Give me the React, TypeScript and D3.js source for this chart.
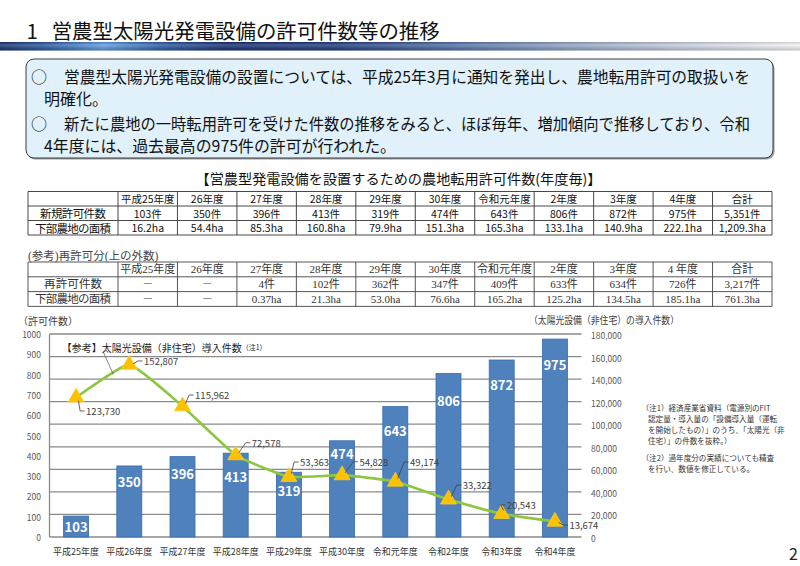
import React from "react";
import * as d3 from "d3";

// ---------- data ----------
const categories = ["平成25年度", "平成26年度", "平成27年度", "平成28年度", "平成29年度", "平成30年度", "令和元年度", "令和2年度", "令和3年度", "令和4年度"];
const permits = [103, 350, 396, 413, 319, 474, 643, 806, 872, 975];
const solarInstalls = [123730, 152807, 115962, 72578, 53363, 54828, 49174, 33322, 20543, 13674];
const leftTicks = [0, 100, 200, 300, 400, 500, 600, 700, 800, 900, 1000];
const rightTicks = [0, 20000, 40000, 60000, 80000, 100000, 120000, 140000, 160000, 180000];

const tableYears = ["平成25年度", "26年度", "27年度", "28年度", "29年度", "30年度", "令和元年度", "2年度", "3年度", "4年度", "合計"];
const permitTotal = "5,351件";
const areaNew = ["16.2ha", "54.4ha", "85.3ha", "160.8ha", "79.9ha", "151.3ha", "165.3ha", "133.1ha", "140.9ha", "222.1ha", "1,209.3ha"];
const refYears = ["平成25年度", "26年度", "27年度", "28年度", "29年度", "30年度", "令和元年度", "2年度", "3年度", "4 年度", "合計"];
const rePermits = ["－", "－", "4件", "102件", "362件", "347件", "409件", "633件", "634件", "726件", "3,217件"];
const reAreas = ["－", "－", "0.37ha", "21.3ha", "53.0ha", "76.6ha", "165.2ha", "125.2ha", "134.5ha", "185.1ha", "761.3ha"];

const notes = [
  "（注1）経済産業省資料（電源別のFIT",
  "認定量・導入量の「設備導入量（運転",
  "を開始したもの）」のうち、「太陽光（非",
  "住宅）」の件数を抜粋。）",
  "（注2）過年度分の実績についても精査",
  "を行い、数値を修正している。",
];

// label placement tweaks (style, not data)
const barLabelDy = [10.7, 15.7, 16.7, 23.7, 18, 13, 24.5, 27.6, 25, 25];
const solarLabelOffset: [number, number][] = [
  [10, 13.5], [14.8, -3.7], [12.6, -11.2], [16, -12.4], [11.2, -14.8],
  [17.3, -13.5], [14.8, -19.5], [14.3, -14.4], [5, -9], [14.5, 3.5],
];

const FONT = "'Noto Sans CJK JP', 'Noto Sans', sans-serif";
const SERIF = "'Liberation Serif', 'Noto Sans CJK JP', serif";

// ---------- table helper ----------
const colX = [28, 118, ...d3.range(1, 12).map((i) => 118 + (i * (772 - 118)) / 11)];

function Table({ top, rowH, rows, font, size, labelSize, labelWidths, color, stroke }: any) {
  const els: any[] = [];
  const nRows = rows.length;
  const bottom = top + rowH * nRows;
  for (let r = 0; r <= nRows; r++) {
    els.push(<line key={"h" + r} x1={colX[0]} x2={colX[colX.length - 1]} y1={top + r * rowH} y2={top + r * rowH} stroke={stroke} strokeWidth={0.9} />);
  }
  colX.forEach((cx, i) => {
    els.push(<line key={"v" + i} x1={cx} x2={cx} y1={top} y2={bottom} stroke={stroke} strokeWidth={0.9} />);
  });
  rows.forEach((row: string[], r: number) => {
    row.forEach((txt, c) => {
      if (!txt) return;
      const cx = (colX[c] + colX[c + 1]) / 2;
      const extra: any = {};
      if (c === 0 && labelWidths && labelWidths[r]) {
        extra.textLength = labelWidths[r];
        extra.lengthAdjust = "spacing";
      }
      els.push(
        <text key={`t${r}-${c}`} x={cx} y={top + r * rowH + rowH / 2} textAnchor="middle" dominantBaseline="central"
          fontFamily={font} fontSize={c === 0 ? labelSize : size} fill={txt === "－" ? "#777" : color} {...extra}>
          {txt}
        </text>
      );
    });
  });
  return <g>{els}</g>;
}

export default function App() {
  const plotLeft = 49.5, plotRight = 581.5, plotTop = 334, plotBottom = 537;
  const x = d3.scaleBand().domain(categories).range([plotLeft, plotRight]).paddingInner(0.53).paddingOuter(0.265);
  const yL = d3.scaleLinear().domain([0, 1000]).range([plotBottom, plotTop]);
  const yR = d3.scaleLinear().domain([0, 180000]).range([plotBottom, plotTop]);
  const bw = x.bandwidth();
  const cx = (i: number) => (x(categories[i]) as number) + bw / 2;

  const pts = solarInstalls.map((v, i) => [cx(i), yR(v)] as [number, number]);
  const linePath = d3.line().curve(d3.curveCardinal.tension(0.6))(pts) as string;
  const tri = d3.symbol().type(d3.symbolTriangle).size(110)() as string;
  const fmt = d3.format(",");

  const table1Rows = [
    ["", ...tableYears],
    ["新規許可件数", ...permits.map((p) => p + "件"), permitTotal],
    ["下部農地の面積", ...areaNew],
  ];
  const table2Rows = [
    ["", ...refYears],
    ["再許可件数", ...rePermits],
    ["下部農地の面積", ...reAreas],
  ];

  const noteYs = [407, 418, 429, 440, 457, 468];

  return (
    <svg width={800} height={566} viewBox="0 0 800 566" style={{ position: "fixed", left: 0, top: 0, background: "#fff" }}>
      <defs>
        <linearGradient id="bar" x1="0" x2="1" y1="0" y2="0">
          <stop offset="0%" stopColor="#17316c" />
          <stop offset="6%" stopColor="#2a58a4" />
          <stop offset="13%" stopColor="#5e9be0" />
          <stop offset="20%" stopColor="#2b5aa6" />
          <stop offset="28%" stopColor="#142d70" />
          <stop offset="42%" stopColor="#1d3a7e" />
          <stop offset="56%" stopColor="#4d6ca2" />
          <stop offset="72%" stopColor="#93a6c6" />
          <stop offset="87%" stopColor="#cbd3e1" />
          <stop offset="100%" stopColor="#f4f4f4" />
        </linearGradient>
        <linearGradient id="barShade" x1="0" x2="0" y1="0" y2="1">
          <stop offset="0%" stopColor="#000" stopOpacity={0.15} />
          <stop offset="35%" stopColor="#fff" stopOpacity={0.2} />
          <stop offset="100%" stopColor="#000" stopOpacity={0.2} />
        </linearGradient>
      </defs>
      <rect width={800} height={566} fill="#fff" />

      {/* title */}
      <text x={26.5} y={30} dominantBaseline="central" fontFamily={FONT} fontSize={20.5} fill="#111">1</text>
      <text x={51.7} y={30} dominantBaseline="central" fontFamily={FONT} fontSize={20.5} fill="#111" textLength={388} lengthAdjust="spacingAndGlyphs">
        営農型太陽光発電設備の許可件数等の推移
      </text>
      <rect x={0} y={42} width={800} height={8.5} fill="url(#bar)" />
      <rect x={0} y={42} width={800} height={8.5} fill="url(#barShade)" />

      {/* summary box */}
      <rect x={27.5} y={60.5} width={747} height={99} rx={8} fill="#9a9a9a" />
      <rect x={26} y={59} width={747} height={99} rx={8} fill="#e0f1fb" stroke="#3c3c3c" strokeWidth={1} />
      <g fontFamily={FONT} fontSize={16} fill="#111">
        <text x={31} y={75.5} dominantBaseline="central">○</text>
        <text x={64} y={75.5} dominantBaseline="central" textLength={686} lengthAdjust="spacingAndGlyphs">
          営農型太陽光発電設備の設置については、平成25年3月に通知を発出し、農地転用許可の取扱いを
        </text>
        <text x={44} y={98} dominantBaseline="central">明確化。</text>
        <text x={31} y={122.5} dominantBaseline="central">○</text>
        <text x={64} y={122.5} dominantBaseline="central" textLength={686} lengthAdjust="spacingAndGlyphs">
          新たに農地の一時転用許可を受けた件数の推移をみると、ほぼ毎年、増加傾向で推移しており、令和
        </text>
        <text x={44} y={145} dominantBaseline="central" textLength={352} lengthAdjust="spacingAndGlyphs">4年度には、過去最高の975件の許可が行われた。</text>
      </g>

      {/* table 1 */}
      <text x={195.5} y={178} dominantBaseline="central" fontFamily={FONT} fontSize={14} fill="#111" textLength={406} lengthAdjust="spacingAndGlyphs">
        【営農型発電設備を設置するための農地転用許可件数(年度毎)】
      </text>
      <Table top={191.5} rowH={14.5} rows={table1Rows} font={FONT} size={10.5} labelSize={11.5} labelWidths={[0, 66, 76]} color="#111" stroke="#333" />

      {/* table 2 */}
      <text x={28} y={255.5} dominantBaseline="central" fontFamily={SERIF} fontSize={11.5} fill="#444">(参考)再許可分(上の外数)</text>
      <Table top={262} rowH={14.8} rows={table2Rows} font={SERIF} size={11} labelSize={11.5} labelWidths={[0, 58, 76]} color="#333" stroke="#444" />

      {/* chart axis titles */}
      <text x={18} y={320} dominantBaseline="central" fontFamily={FONT} fontSize={10} fill="#404040">（許可件数）</text>
      <text x={529} y={319} dominantBaseline="central" fontFamily={FONT} fontSize={10} fill="#404040" textLength={150} lengthAdjust="spacingAndGlyphs">（太陽光設備（非住宅）の導入件数）</text>

      {/* gridlines (secondary axis) */}
      {rightTicks.map((t) => (
        <line key={"g" + t} x1={plotLeft} x2={plotRight} y1={yR(t)} y2={yR(t)} stroke="#8a8a8a" strokeWidth={1.3} />
      ))}
      <line x1={plotLeft} x2={plotLeft} y1={plotTop} y2={plotBottom} stroke="#8a8a8a" strokeWidth={1.3} />

      {/* left ticks */}
      {leftTicks.map((t) => (
        <text key={"l" + t} x={41} y={yL(t)} textAnchor="end" dominantBaseline="central" fontFamily={FONT} fontSize={8.5} fill="#595959">{t}</text>
      ))}
      {/* right ticks */}
      {rightTicks.map((t) => (
        <text key={"r" + t} x={591} y={yR(t) + 1} dominantBaseline="central" fontFamily={FONT} fontSize={8.5} fill="#595959">{fmt(t)}</text>
      ))}

      {/* bars */}
      {permits.map((v, i) => (
        <rect key={"b" + i} x={x(categories[i])} y={yL(v)} width={bw} height={plotBottom - yL(v)} fill="#4f81bd" stroke="#3a6cad" strokeWidth={0.8} />
      ))}
      {permits.map((v, i) => (
        <text key={"bl" + i} x={cx(i)} y={yL(v) + barLabelDy[i]} textAnchor="middle" dominantBaseline="central" fontFamily={FONT} fontSize={13} fontWeight={700} fill="#fff">{v}</text>
      ))}

      {/* x labels */}
      {categories.map((c, i) => (
        <text key={"x" + i} x={cx(i)} y={551} textAnchor="middle" dominantBaseline="central" fontFamily={FONT} fontSize={9} fill="#333">{c}</text>
      ))}

      {/* solar line */}
      <path d={linePath} fill="none" stroke="#8dc63f" strokeWidth={2.6} />
      {pts.map(([px, py], i) => (
        <path key={"m" + i} d={tri} transform={`translate(${px},${py})`} fill="#ffc000" stroke="#f2d02a" strokeWidth={0.8} />
      ))}
      {pts.map(([px, py], i) => {
        const [dx, dy] = solarLabelOffset[i];
        const tx = px + dx, ty = py + dy;
        const len = Math.hypot(dx, dy);
        const sx = px + (dx / len) * 4, sy = py + (dy / len) * 4;
        return (
          <g key={"sl" + i}>
            <polyline points={`${sx},${sy} ${tx - 6},${ty} ${tx - 1.5},${ty}`} fill="none" stroke="#404040" strokeWidth={0.8} />
            <text x={tx} y={ty} dominantBaseline="central" fontFamily={FONT} fontSize={9.5} fill="#404040">{fmt(solarInstalls[i])}</text>
          </g>
        );
      })}

      {/* series legend annotation */}
      <line x1={103.3} y1={352} x2={113.3} y2={374.3} stroke="#666" strokeWidth={0.8} />
      <text x={61.7} y={347} dominantBaseline="central" fontFamily={FONT} fontSize={10} fill="#222">
        【参考】太陽光設備（非住宅）導入件数<tspan fontSize={7}>（注1）</tspan>
      </text>

      {/* notes */}
      <g fontFamily={FONT} fontSize={7.6} fill="#333">
        {notes.map((n, i) => {
          const indent = i === 0 || i === 4 ? 641.5 : 648;
          return <text key={"n" + i} x={indent} y={noteYs[i]} dominantBaseline="central">{n}</text>;
        })}
      </g>

      {/* page number */}
      <text x={789} y={553} dominantBaseline="central" fontFamily={FONT} fontSize={16} fill="#222">2</text>
    </svg>
  );
}
